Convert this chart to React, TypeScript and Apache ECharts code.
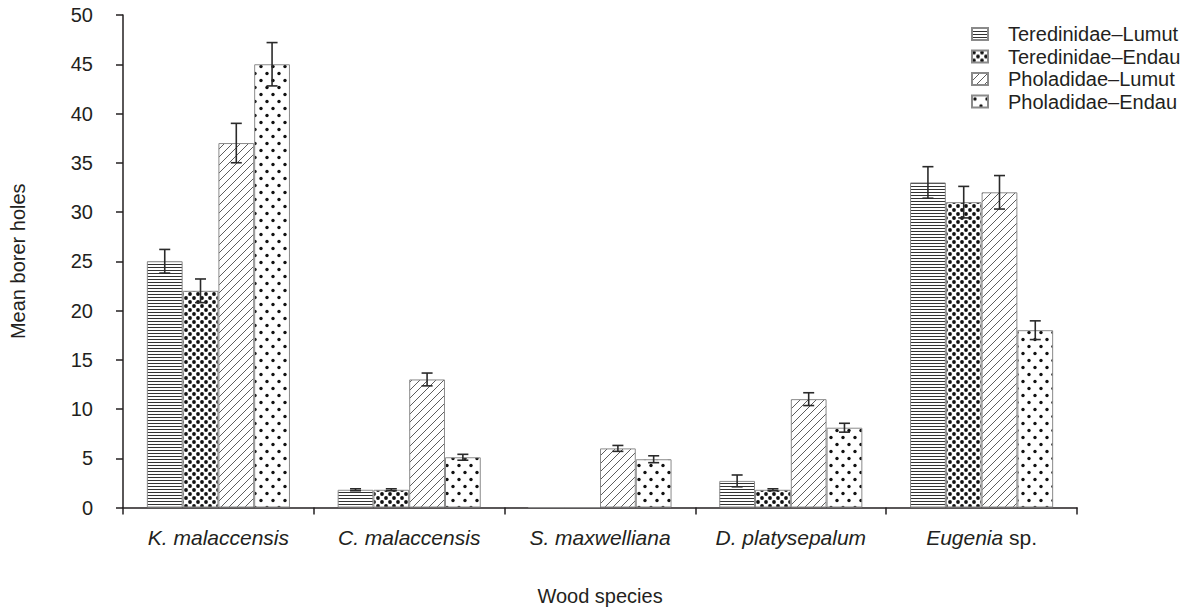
import React, { useEffect, useRef } from "react";
import * as echarts from "echarts";

const categories = ["K. malaccensis", "C. malaccensis", "S. maxwelliana", "D. platysepalum", "Eugenia sp."];
const seriesNames = ["Teredinidae–Lumut", "Teredinidae–Endau", "Pholadidae–Lumut", "Pholadidae–Endau"];
const terLumut = [25, 1.8, 0, 2.7, 33];
const terLumutErr = [1.2, 0.1, 0, 0.6, 1.6];
const terEndau = [22, 1.8, 0, 1.8, 31];
const terEndauErr = [1.2, 0.1, 0, 0.1, 1.6];
const phoLumut = [37, 13, 6, 11, 32];
const phoLumutErr = [2, 0.65, 0.3, 0.65, 1.7];
const phoEndau = [45, 5.1, 4.9, 8.1, 18];
const phoEndauErr = [2.2, 0.3, 0.35, 0.45, 0.95];
const yTicks = [0, 5, 10, 15, 20, 25, 30, 35, 40, 45, 50];

const INK = "#231f20";
const FONT = "Liberation Sans, Arial, sans-serif";

function makeCanvas(w: number, h: number, draw: (c: CanvasRenderingContext2D) => void) {
  const cv = document.createElement("canvas");
  cv.width = w;
  cv.height = h;
  const ctx = cv.getContext("2d")!;
  ctx.fillStyle = "#ffffff";
  ctx.fillRect(0, 0, w, h);
  draw(ctx);
  return cv;
}

function dot(c: CanvasRenderingContext2D, x: number, y: number, r: number) {
  c.beginPath();
  c.arc(x, y, r, 0, Math.PI * 2);
  c.fill();
}

function patterns() {
  const horiz = makeCanvas(4, 3, (c) => {
    c.fillStyle = "#333";
    c.fillRect(0, 0, 4, 1);
  });
  const dense = makeCanvas(8, 8, (c) => {
    c.fillStyle = "#111";
    [[2, 2], [6, 6], [-2, 2], [10, 2], [6, -2], [6, 10]].forEach(([x, y]) => dot(c, x, y, 1.9));
  });
  const diag = makeCanvas(8, 8, (c) => {
    c.strokeStyle = "#333";
    c.lineWidth = 0.8;
    for (let k = -1; k <= 1; k++) {
      c.beginPath();
      c.moveTo(k * 8, 8);
      c.lineTo(k * 8 + 8, 0);
      c.stroke();
    }
  });
  const sparse = makeCanvas(12, 14, (c) => {
    c.fillStyle = "#111";
    [[3, 3.5], [9, 10.5]].forEach(([x, y]) => dot(c, x, y, 1.7));
  });
  return [horiz, dense, diag, sparse];
}

export default function App() {
  const ref = useRef<HTMLDivElement>(null);
  useEffect(() => {
    if (!ref.current) return;
    const chart = echarts.init(ref.current, undefined, { renderer: "svg" });
    const pats = patterns();
    const values = [terLumut, terEndau, phoLumut, phoEndau];
    const errs = [terLumutErr, terEndauErr, phoLumutErr, phoEndauErr];
    const gapFrac = 0.25;

    const barSeries = seriesNames.map((name, i) => ({
      name,
      type: "bar",
      data: values[i],
      barGap: "0%",
      barCategoryGap: "25%",
      itemStyle: {
        color: { image: pats[i], repeat: "repeat" },
        borderColor: "#8a8a8a",
        borderWidth: 1,
      },
    }));

    const errData: number[][] = [];
    values.forEach((vals, s) => {
      vals.forEach((v, c) => {
        if (v > 0) errData.push([c, v, errs[s][c], s]);
      });
    });

    const errSeries = {
      type: "custom",
      name: "err",
      z: 10,
      silent: true,
      data: errData,
      renderItem: (params: any, api: any) => {
        const c = api.value(0);
        const v = api.value(1);
        const e = api.value(2);
        const s = api.value(3);
        const band = api.size([1, 0])[0];
        const bw = (band * (1 - gapFrac)) / 4;
        const center = api.coord([c, v]);
        const x = center[0] + (s - 1.5) * bw;
        const top = api.coord([c, v + e])[1];
        const bot = api.coord([c, v - e])[1];
        const hw = 5.5;
        const st = { stroke: "#2a2a2a", lineWidth: 1.6 };
        return {
          type: "group",
          children: [
            { type: "line", shape: { x1: x, y1: top, x2: x, y2: bot }, style: st },
            { type: "line", shape: { x1: x - hw, y1: top, x2: x + hw, y2: top }, style: st },
            { type: "line", shape: { x1: x - hw, y1: bot, x2: x + hw, y2: bot }, style: st },
          ],
        };
      },
    };

    chart.setOption({
      animation: false,
      backgroundColor: "#ffffff",
      textStyle: { fontFamily: FONT, color: INK },
      grid: { left: 123, right: 113, top: 15, bottom: 103.5, containLabel: false },
      legend: {
        data: seriesNames,
        orient: "vertical",
        left: 966,
        top: 19,
        itemWidth: 16,
        itemHeight: 12,
        itemGap: 2.5,
        icon: "rect",
        textStyle: { fontSize: 20, color: INK, fontFamily: FONT, padding: [0, 0, 0, 15] },
      },
      xAxis: {
        type: "category",
        data: categories,
        name: "Wood species",
        nameLocation: "middle",
        nameGap: 78,
        nameTextStyle: { fontSize: 20, color: INK, fontFamily: FONT },
        axisLine: { lineStyle: { color: INK, width: 1.5 } },
        axisTick: { show: true, length: 7, lineStyle: { color: INK, width: 1.5 } },
        axisLabel: {
          interval: 0,
          hideOverlap: false,
          margin: 19,
          fontSize: 21,
          color: INK,
          formatter: (val: string) => {
            if (val.endsWith(" sp.")) return "{i|" + val.slice(0, -4) + "} {n|sp.}";
            return "{i|" + val + "}";
          },
          rich: {
            i: { fontStyle: "italic", fontSize: 21, color: INK, fontFamily: FONT },
            n: { fontSize: 21, color: INK, fontFamily: FONT },
          },
        },
      },
      yAxis: {
        type: "value",
        min: yTicks[0],
        max: yTicks[yTicks.length - 1],
        interval: 5,
        name: "Mean borer holes",
        nameLocation: "middle",
        nameGap: 95,
        nameTextStyle: { fontSize: 20, color: INK, fontFamily: FONT },
        splitLine: { show: false },
        axisLine: { show: true, lineStyle: { color: INK, width: 1.5 } },
        axisTick: { show: true, length: 7, lineStyle: { color: INK, width: 1.5 } },
        axisLabel: { fontSize: 20, color: INK, margin: 30 },
      },
      series: [...barSeries, errSeries],
    } as any);
    return () => chart.dispose();
  }, []);
  return <div ref={ref} style={{ position: "fixed", left: 0, top: 0, width: 1190, height: 611 }} />;
}
